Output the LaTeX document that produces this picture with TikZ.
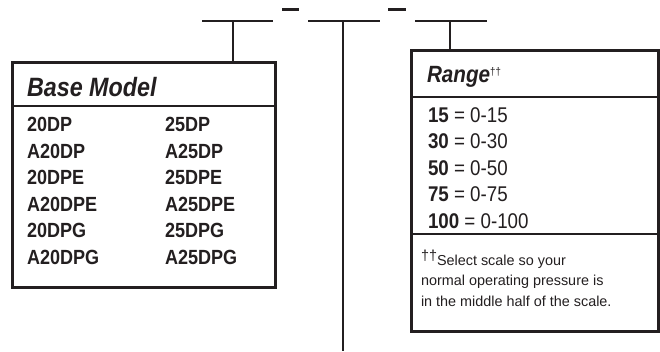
\documentclass[tikz,border=0pt]{standalone}
\usepackage{fontspec}
\setmainfont{Liberation Sans}
\newfontfamily\nf{Liberation Sans}[FakeStretch=0.88]
\definecolor{ink}{HTML}{231F20}
\begin{document}
\begin{tikzpicture}[x=1pt,y=-1pt,
  every node/.style={text=ink,inner sep=0pt,outer sep=0pt},
  outerbox/.style={draw=ink,line width=3pt,rectangle,inner sep=0pt},
  divider/.style={draw=ink,line width=1.8pt},
  seg/.style={draw=ink,line width=2pt},
  tick/.style={draw=ink,line width=2.8pt},
  dashbar/.style={draw=ink,line width=3.8pt},
  hdrA/.style={anchor=base west,font=\nf\bfseries\itshape\fontsize{26.5}{26.5}\selectfont},
  hdrB/.style={anchor=base west,font=\nf\bfseries\itshape\fontsize{23.5}{23.5}\selectfont},
  model/.style={anchor=base west,font=\nf\bfseries\fontsize{20.5}{20.5}\selectfont},
  rng/.style={anchor=base west,font=\nf\fontsize{21.3}{21.3}\selectfont},
  note/.style={anchor=base west,font=\fontsize{14.4}{14.4}\selectfont}]
\useasboundingbox (0,0) rectangle (660,351);
\fill[white] (0,0) rectangle (660,351);
% top code segments
\coordinate (s1a) at (202,21); \coordinate (s1b) at (273,21);
\coordinate (s2a) at (308,21); \coordinate (s2b) at (380,21);
\coordinate (s3a) at (415,21); \coordinate (s3b) at (487,21);
\coordinate (d1a) at (282,9.5); \coordinate (d1b) at (299,9.5);
\coordinate (d2a) at (388,9.5); \coordinate (d2b) at (406,9.5);
\draw[seg] (s1a) -- (s1b);
\draw[seg] (s2a) -- (s2b);
\draw[seg] (s3a) -- (s3b);
\draw[dashbar] (d1a) -- (d1b);
\draw[dashbar] (d2a) -- (d2b);
% boxes
\node[outerbox,minimum width=263pt,minimum height=225pt] (base) at (143.5,174.5) {};
\node[outerbox,minimum width=247pt,minimum height=281pt] (range) at (534.5,190.5) {};
% connectors
\coordinate (t1) at (233,21);
\coordinate (t2) at (343,21);
\coordinate (t3) at (450,21);
\coordinate (t2end) at (343,351);
\draw[tick] (t1) -- (t1 |- base.north);
\draw[tick] (t2) -- (t2end);
\draw[tick] (t3) -- (t3 |- range.north);
% dividers
\draw[divider] (base.west |- 0,106) -- (base.east |- 0,106);
\draw[divider] (range.west |- 0,97) -- (range.east |- 0,97);
\draw[divider] (range.west |- 0,234) -- (range.east |- 0,234);
% base model text
\node[hdrA] (bh) at (27,96) {Base Model};
\node[model] (m1) at (27,131.5) {20DP};
\node[model] (m2) at (27,158.1) {A20DP};
\node[model] (m3) at (27,184.7) {20DPE};
\node[model] (m4) at (27,211.3) {A20DPE};
\node[model] (m5) at (27,237.9) {20DPG};
\node[model] (m6) at (27,264.5) {A20DPG};
\node[model] (n1) at (165,131.5) {25DP};
\node[model] (n2) at (165,158.1) {A25DP};
\node[model] (n3) at (165,184.7) {25DPE};
\node[model] (n4) at (165,211.3) {A25DPE};
\node[model] (n5) at (165,237.9) {25DPG};
\node[model] (n6) at (165,264.5) {A25DPG};
% range text
\node[hdrB] (rh) at (427,82) {Range\raisebox{7pt}{\upshape\mdseries\fontsize{11}{11}\selectfont ††}};
\node[rng] (r1) at (428,122) {\textbf{15} = 0-15};
\node[rng] (r2) at (428,148.5) {\textbf{30} = 0-30};
\node[rng] (r3) at (428,175) {\textbf{50} = 0-50};
\node[rng] (r4) at (428,201.5) {\textbf{75} = 0-75};
\node[rng] (r5) at (428,228) {\textbf{100} = 0-100};
% footnote
\node[note] (f1) at (421,265) {\raisebox{5pt}{††}Select scale so your};
\node[note] (f2) at (421,285.5) {normal operating pressure is};
\node[note] (f3) at (421,306.5) {in the middle half of the scale.};
\end{tikzpicture}
\end{document}
